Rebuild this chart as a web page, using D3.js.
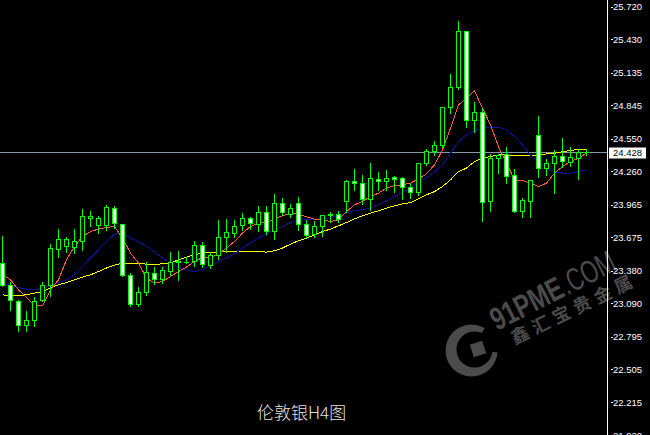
<!DOCTYPE html>
<html><head><meta charset="utf-8">
<script src="https://cdn.jsdelivr.net/npm/d3@7"></script>
<style>html,body{margin:0;padding:0;background:#000;overflow:hidden}</style>
</head><body><svg id="c" width="650" height="435"></svg>
<script>
// ---- data ----
const open  = [23.443,23.251,23.110,22.891,22.941,23.118,23.245,23.567,23.590,23.581,23.634,23.841,23.776,23.782,23.930,23.790,23.333,23.080,23.191,23.354,
               23.301,23.377,23.452,23.448,23.457,23.605,23.428,23.516,23.673,23.708,23.776,23.841,23.788,23.894,23.731,23.974,23.876,23.974,23.791,23.699,
               23.767,23.866,23.879,23.997,24.168,24.151,24.012,24.186,24.168,24.204,24.195,24.115,24.071,24.328,24.434,24.490,24.823,25.000,25.499,24.711,
               24.779,23.997,24.372,24.407,24.224,23.908,23.997,24.578,24.284,24.328,24.395,24.342,24.377,24.430];
const high  = [23.693,23.280,23.125,23.029,23.147,23.280,23.620,23.753,23.684,23.753,23.930,23.914,23.870,23.968,23.959,23.800,23.368,23.236,23.457,23.413,
               23.419,23.552,23.560,23.507,23.649,23.634,23.554,23.835,23.846,23.832,23.897,23.861,23.959,23.959,24.062,24.027,23.979,24.038,23.832,23.826,
               23.879,23.906,23.914,24.189,24.286,24.233,24.339,24.260,24.277,24.224,24.215,24.165,24.337,24.461,24.534,24.835,25.124,25.596,25.507,24.879,
               24.823,24.422,24.422,24.481,24.284,24.027,24.186,24.755,24.372,24.452,24.563,24.481,24.461,24.461];
const low   = [23.242,23.029,22.837,22.837,22.882,23.103,23.147,23.501,23.545,23.531,23.560,23.767,23.708,23.737,23.753,23.324,23.065,23.065,23.162,23.260,
               23.266,23.339,23.295,23.443,23.419,23.407,23.399,23.478,23.545,23.673,23.737,23.744,23.731,23.702,23.658,23.870,23.850,23.737,23.664,23.678,
               23.684,23.811,23.811,23.899,24.091,23.968,23.914,24.091,24.091,24.076,24.009,24.015,24.047,24.313,24.401,24.475,24.770,24.985,24.646,24.607,
               23.820,23.908,24.245,24.151,23.891,23.855,23.855,24.209,24.224,24.068,24.298,24.304,24.186,24.401];
const close = [23.251,23.118,22.891,22.941,23.109,23.251,23.576,23.655,23.655,23.637,23.861,23.861,23.841,23.938,23.797,23.339,23.080,23.186,23.366,23.301,
               23.383,23.452,23.460,23.452,23.605,23.434,23.516,23.673,23.717,23.773,23.841,23.797,23.899,23.731,23.974,23.894,23.930,23.788,23.693,23.773,
               23.870,23.875,23.832,24.171,24.151,24.012,24.195,24.168,24.195,24.192,24.115,24.076,24.328,24.434,24.490,24.823,25.000,25.499,24.711,24.779,
               23.988,24.372,24.401,24.218,23.908,24.003,24.180,24.284,24.328,24.395,24.348,24.381,24.430,24.428];
const maFast = [23.339,23.295,23.206,23.136,23.065,23.065,23.206,23.295,23.472,23.590,23.678,23.722,23.744,23.758,23.767,23.664,23.531,23.443,23.310,23.266,
                23.280,23.324,23.368,23.407,23.457,23.492,23.492,23.525,23.576,23.634,23.708,23.767,23.797,23.802,23.835,23.861,23.885,23.876,23.853,23.832,
                23.826,23.811,23.826,23.899,23.959,23.988,24.032,24.062,24.107,24.130,24.136,24.151,24.189,24.233,24.313,24.445,24.638,24.844,24.903,24.968,
                24.815,24.667,24.475,24.328,24.180,24.174,24.151,24.121,24.151,24.239,24.298,24.342,24.372,24.416];
const maMid  = [23.268,23.242,23.227,23.213,23.206,23.222,23.242,23.271,23.295,23.339,23.413,23.487,23.560,23.634,23.699,23.708,23.664,23.634,23.590,23.543,
                23.487,23.443,23.407,23.384,23.368,23.384,23.419,23.457,23.487,23.525,23.576,23.620,23.664,23.702,23.738,23.767,23.802,23.826,23.832,23.832,
                23.835,23.846,23.861,23.885,23.908,23.915,23.930,23.959,23.994,24.032,24.068,24.107,24.165,24.198,24.251,24.313,24.416,24.519,24.578,24.616,
                24.638,24.646,24.646,24.623,24.563,24.490,24.401,24.342,24.284,24.253,24.239,24.239,24.253,24.269];
const maSlow = [23.162,23.153,23.156,23.162,23.177,23.192,23.222,23.251,23.271,23.295,23.319,23.339,23.368,23.399,23.425,23.443,23.443,23.437,23.434,23.428,
                23.437,23.443,23.472,23.496,23.516,23.531,23.537,23.540,23.543,23.549,23.549,23.543,23.545,23.540,23.552,23.576,23.611,23.640,23.664,23.693,
                23.722,23.744,23.773,23.802,23.835,23.861,23.885,23.906,23.930,23.950,23.968,23.979,24.012,24.047,24.076,24.121,24.180,24.253,24.284,24.342,
                24.372,24.386,24.401,24.401,24.395,24.395,24.395,24.401,24.410,24.416,24.430,24.439,24.452,24.452];
const tickLabels = ["25.720","25.430","25.135","24.845","24.550","24.260","23.965","23.675","23.380","23.090","22.795","22.505","22.215","21.920"];
const lastPrice = 24.428;
const title = "伦敦银H4图";
const wmTitle = ["91PME", ".COM"];
const wmSub = "鑫汇宝贵金属";
const categories = open.map((_, i) => i);

// ---- drawing ----
const svg = d3.select("#c");
svg.append("rect").attr("width", 650).attr("height", 435).attr("fill", "#000");

const x = d3.scalePoint().domain(categories).range([2.5, 586.5]);
const y = d3.scaleLinear().domain([21.92, 25.72]).range([435, 6]);
const py = v => Math.round(y(v)) + 0.5;

// watermark
const WM = "#4b4b4b";
const cx0 = 471.5, cy0 = 350.5;
const ring = d3.path();
ring.moveTo(cx0 + 26, cy0); ring.arc(cx0, cy0, 26, 0, Math.PI * 2);
ring.moveTo(cx0 + 3 + 18, cy0 - 1); ring.arc(cx0 + 3, cy0 - 1, 18, 0, Math.PI * 2);
svg.append("path").attr("fill-rule", "evenodd").attr("d", ring.toString()).attr("fill", WM);
const wedge = d3.arc().innerRadius(0).outerRadius(30).startAngle(0.17 * Math.PI).endAngle(0.52 * Math.PI);
svg.append("path").attr("d", wedge()).attr("transform", `translate(${cx0},${cy0})`).attr("fill", "#000");
svg.append("rect").attr("x", -6.5).attr("y", -6.5).attr("width", 13).attr("height", 13)
  .attr("transform", `translate(478,349) rotate(-18)`).attr("fill", WM);
const wg = svg.append("g").attr("transform", "translate(497,331) rotate(-27)")
  .attr("fill", WM).attr("font-family", "Liberation Sans, Arial, sans-serif").attr("font-size", 32);
wg.append("text").attr("x", 0).attr("font-weight", "bold")
  .attr("textLength", 78).attr("lengthAdjust", "spacingAndGlyphs").text(wmTitle[0]);
wg.append("text").attr("x", 79).attr("font-weight", "normal")
  .attr("textLength", 57).attr("lengthAdjust", "spacingAndGlyphs").text(wmTitle[1]);
svg.append("text").attr("transform", "translate(520,335) rotate(-26)").attr("x", -9).attr("dy", "0.36em")
  .attr("fill", WM).attr("font-family", "Noto Sans CJK SC, sans-serif").attr("font-weight", "bold")
  .attr("font-size", 18).attr("textLength", 133).attr("lengthAdjust", "spacing").text(wmSub);

// bid line
svg.append("line").attr("x1", 0).attr("x2", 607).attr("y1", py(lastPrice)).attr("y2", py(lastPrice))
  .attr("stroke", "#8797a8").attr("stroke-width", 1).attr("shape-rendering", "crispEdges");

// moving averages
const line = d3.line().x((d, i) => x(i)).y(d => y(d));
[[maSlow, "#ffff00"], [maMid, "#10109a"], [maFast, "#ff5a40"]].forEach(([s, c]) => {
  svg.append("path").datum(s).attr("d", line).attr("fill", "none").attr("stroke", c)
    .attr("stroke-width", 1).attr("shape-rendering", "crispEdges");
});

// candles
const cg = svg.append("g").attr("shape-rendering", "crispEdges");
categories.forEach(i => {
  const cx = x(i), o = open[i], c = close[i];
  cg.append("line").attr("x1", cx).attr("x2", cx).attr("y1", py(high[i])).attr("y2", py(low[i]))
    .attr("stroke", "#00ff00");
  const y1 = Math.min(py(o), py(c)), y2 = Math.max(py(o), py(c));
  if (y2 - y1 < 1) {
    cg.append("line").attr("x1", cx - 2.5).attr("x2", cx + 2.5).attr("y1", y1).attr("y2", y1).attr("stroke", "#00ff00");
  } else {
    cg.append("rect").attr("x", cx - 2).attr("y", y1).attr("width", 4).attr("height", y2 - y1)
      .attr("fill", c >= o ? "#000" : "#fff").attr("stroke", "#00ff00");
  }
});

// price axis
const axis = d3.axisRight(y).tickValues(tickLabels.map(Number)).tickFormat(d3.format(".3f"))
  .tickSize(0).tickPadding(6);
const ag = svg.append("g").attr("transform", "translate(607.5,0)").call(axis);
ag.select(".domain").attr("stroke", "#fff").attr("d", "M0,0V435");
ag.selectAll(".tick line").attr("x1", 3).attr("x2", 5).attr("y1", 0.5).attr("y2", 0.5)
  .attr("stroke", "#fff").attr("shape-rendering", "crispEdges");
ag.selectAll(".tick text").attr("fill", "#fff").attr("font-family", "Liberation Sans, Arial, sans-serif")
  .attr("font-size", 9.5).attr("dy", "0.36em").attr("x", 5.5);

// last price label
const lp = svg.append("g").attr("transform", `translate(609,${py(lastPrice)})`);
lp.append("rect").attr("x", 0).attr("y", -5).attr("width", 37).attr("height", 11).attr("fill", "#fff");
lp.append("text").attr("x", 4).attr("y", 0).attr("dy", "0.36em").attr("fill", "#000")
  .attr("font-family", "Liberation Sans, Arial, sans-serif").attr("font-size", 9.5).text(lastPrice.toFixed(3));

// title
svg.append("text").attr("x", 257).attr("y", 419).attr("fill", "#e4e4e4")
  .attr("font-family", "Noto Sans CJK SC, sans-serif").attr("font-size", 17).attr("font-weight", 300).text(title);
</script></body></html>
